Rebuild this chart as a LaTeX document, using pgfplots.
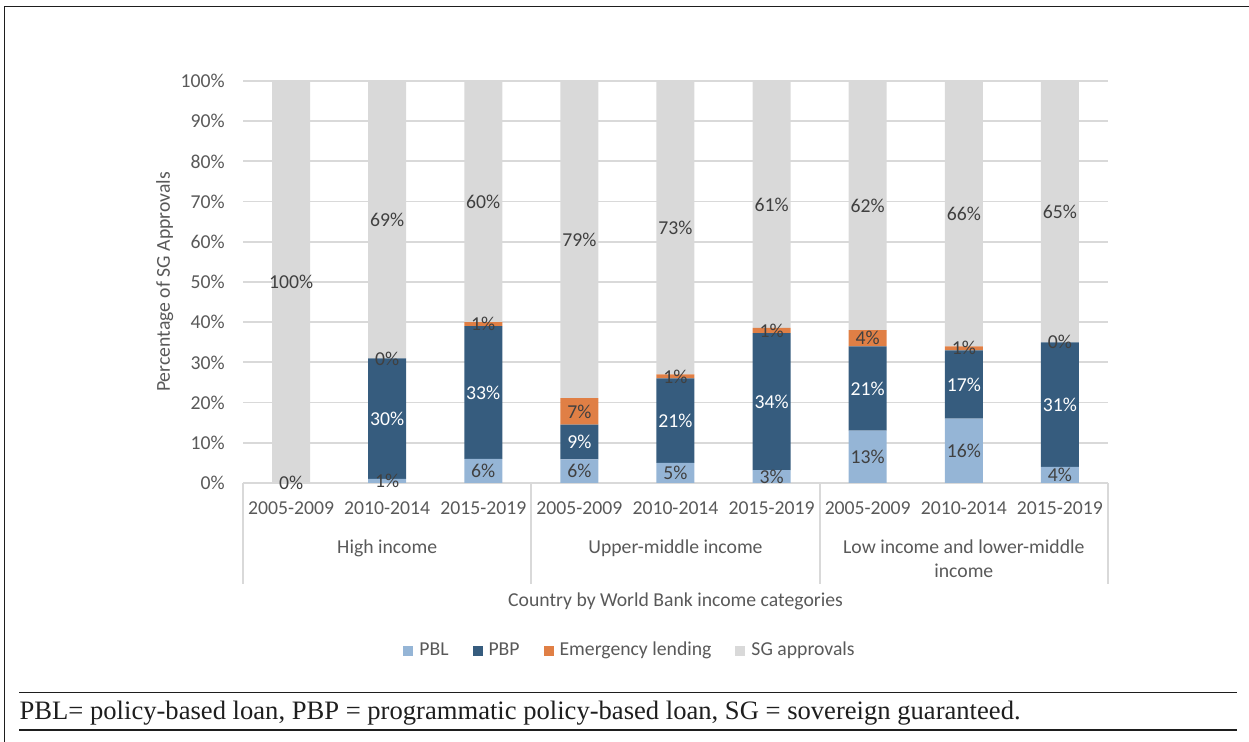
\documentclass[border=0pt]{standalone}
\usepackage{pgfplots}
\pgfplotsset{compat=1.18}
\usepackage{pgfplotstable}
\usepackage{fontspec}
\setmainfont{Carlito}
\newfontfamily\notefont{Liberation Serif}

\definecolor{pblblue}{HTML}{95B5D6}
\definecolor{pbpblue}{HTML}{365C7E}
\definecolor{emorange}{HTML}{E07F45}
\definecolor{sggray}{HTML}{D9D9D9}
\definecolor{gridgray}{HTML}{D9D9D9}
\definecolor{labelgray}{HTML}{595959}
\definecolor{valuegray}{HTML}{404040}
\definecolor{rulecol}{HTML}{1E1E1E}

\newcommand\chartfont{\fontsize{9.85}{11.8}\selectfont}

% Shares of SG approvals (%) per income group and period,
% with the height at which each value label is centred
\pgfplotstableread{
x  pbl  pbp   em   sg    ypbl  ypbp   yem    ysg
0  0    0     0    100   0     nan    nan    50
1  1    30    0    69    0.5   16     31     65.5
2  6    33    1    60    3     22.5   39.5   70
3  5.9  8.6   6.6  78.9  2.95  10.2   17.8   60.55
4  5    21    1    73    2.5   15.5   26.5   63.5
5  3.2  34.1  1.3  61.4  1.6   20.25  37.95  69.3
6  13   21    4    62    6.5   23.5   36     69
7  16   17    1    66    8     24.5   33.5   67
8  4    31    0    65    2     19.5   35     67.5
}\sgdata

\pgfplotsset{
  /pgf/number format/assume math mode=true,
  chartframe/.style={
    at={(121.5pt,-241.5pt)}, anchor=south west,
    scale only axis, width=432.5pt, height=201pt,
    xmin=-0.5, xmax=8.5, ymin=0, ymax=100,
    enlargelimits=false,
  },
  squarelegend/.style={
    legend image code/.code={\fill[##1] (0pt,-2.5pt) rectangle (5pt,2.5pt); \path (6pt,0pt);}
  },
}

\begin{document}
\begin{tikzpicture}[font=\chartfont]
\useasboundingbox (0,0) rectangle (624.5pt,-371pt);

\begin{axis}[chartframe,
  ybar stacked, bar width=19pt,
  clip=false,
  axis line style={draw=none},
  major tick length=0pt,
  ytick={0,10,...,100},
  yticklabel={\pgfmathprintnumber{\tick}\%},
  yticklabel style={anchor=east, inner sep=0pt, xshift=-9pt, text=labelgray},
  xtick={0,...,8},
  xticklabels={2005-2009,2010-2014,2015-2019,2005-2009,2010-2014,2015-2019,2005-2009,2010-2014,2015-2019},
  xticklabel style={anchor=base, inner sep=0pt, yshift=-16pt, text=labelgray},
  ymajorgrids, grid style={gridgray, line width=0.9pt},
  xlabel={Country by World Bank income categories},
  xlabel style={at={(axis description cs:0.5,-0.3072)}, anchor=base, inner sep=0pt, text=labelgray},
  ylabel={Percentage of SG Approvals},
  ylabel style={at={(axis description cs:-0.0844,0.5)}, anchor=base, inner sep=0pt, text=labelgray},
  legend columns=4,
  legend style={at={(axis description cs:0.4486,-0.4167)}, anchor=center,
    draw=none, fill=none, text=labelgray,
    /tikz/every even column/.append style={column sep=10pt}},
]
\addplot[fill=pblblue, draw=none, squarelegend] table[x=x, y=pbl]{\sgdata};
\addlegendentry{PBL}
\addplot[fill=pbpblue, draw=none, squarelegend] table[x=x, y=pbp]{\sgdata};
\addlegendentry{PBP}
\addplot[fill=emorange, draw=none, squarelegend] table[x=x, y=em]{\sgdata};
\addlegendentry{Emergency lending}
\addplot[fill=sggray, draw=none, squarelegend] table[x=x, y=sg]{\sgdata};
\addlegendentry{SG approvals}

% group separators below the category axis
\draw[gridgray, line width=0.9pt] (axis cs:-0.5,0) -- ++(0pt,-50.5pt);
\draw[gridgray, line width=0.9pt] (axis cs:2.5,0) -- ++(0pt,-50.5pt);
\draw[gridgray, line width=0.9pt] (axis cs:5.5,0) -- ++(0pt,-50.5pt);
\draw[gridgray, line width=0.9pt] (axis cs:8.5,0) -- ++(0pt,-50.5pt);

% income group names
\node[anchor=base, inner sep=0pt, text=labelgray] at (axis cs:1,0) [yshift=-35.15pt] {High income};
\node[anchor=base, inner sep=0pt, text=labelgray] at (axis cs:4,0) [yshift=-35.15pt] {Upper-middle income};
\node[anchor=base, inner sep=0pt, text=labelgray] at (axis cs:7,0) [yshift=-35.15pt] {Low income and lower-middle};
\node[anchor=base, inner sep=0pt, text=labelgray] at (axis cs:7,0) [yshift=-47.35pt] {income};
\end{axis}

% value labels centred in each segment
\begin{axis}[chartframe, hide axis, clip=false,
  point meta=explicit,
  nodes near coords={\pgfmathprintnumber[fixed,precision=0]{\pgfplotspointmeta}\%},
  every node near coord/.append style={anchor=center, inner sep=0pt},
]
\addplot[draw=none, mark=none, nodes near coords style={text=valuegray}]
  table[x=x, y=ypbl, meta=pbl]{\sgdata};
\addplot[draw=none, mark=none, nodes near coords style={text=white}]
  table[x=x, y=ypbp, meta=pbp]{\sgdata};
\addplot[draw=none, mark=none, nodes near coords style={text=valuegray}]
  table[x=x, y=yem, meta=em]{\sgdata};
\addplot[draw=none, mark=none, nodes near coords style={text=valuegray}]
  table[x=x, y=ysg, meta=sg]{\sgdata};
\end{axis}

% frame and note
\draw[rulecol, line width=0.65pt] (2.4pt,-371pt) -- (2.4pt,-3.4pt) -- (624.5pt,-3.4pt);
\draw[rulecol, line width=0.9pt] (9.65pt,-346.3pt) -- (618.3pt,-346.3pt);
\draw[rulecol, line width=0.9pt] (9.65pt,-365pt) -- (618.3pt,-365pt);
\node[anchor=base west, inner sep=0pt, text=rulecol, font=\notefont\fontsize{13.3}{16}\selectfont]
  at (9.65pt,-359.65pt) {PBL= policy-based loan, PBP = programmatic policy-based loan, SG = sovereign guaranteed.};
\end{tikzpicture}
\end{document}
